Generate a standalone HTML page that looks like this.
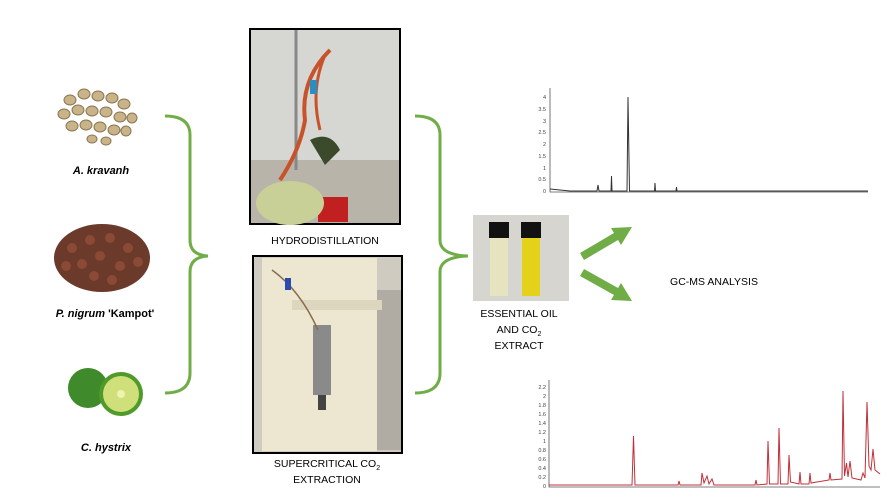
<!DOCTYPE html>
<html><head><style>body{margin:0;background:#fff}svg{display:block}text{font-family:"Liberation Sans",sans-serif}</style></head><body>
<svg width="896" height="504" viewBox="0 0 896 504" xmlns="http://www.w3.org/2000/svg">
<!-- seeds -->
<g fill="#c9b48a" stroke="#8a7550" stroke-width="1">
<ellipse cx="70" cy="100" rx="6" ry="5"/><ellipse cx="84" cy="94" rx="6" ry="5"/><ellipse cx="98" cy="96" rx="6" ry="5"/><ellipse cx="112" cy="98" rx="6" ry="5"/><ellipse cx="124" cy="104" rx="6" ry="5"/>
<ellipse cx="64" cy="114" rx="6" ry="5"/><ellipse cx="78" cy="110" rx="6" ry="5"/><ellipse cx="92" cy="111" rx="6" ry="5"/><ellipse cx="106" cy="112" rx="6" ry="5"/><ellipse cx="120" cy="117" rx="6" ry="5"/><ellipse cx="132" cy="118" rx="5" ry="5"/>
<ellipse cx="72" cy="126" rx="6" ry="5"/><ellipse cx="86" cy="125" rx="6" ry="5"/><ellipse cx="100" cy="127" rx="6" ry="5"/><ellipse cx="114" cy="130" rx="6" ry="5"/><ellipse cx="126" cy="131" rx="5" ry="5"/><ellipse cx="92" cy="139" rx="5" ry="4"/><ellipse cx="106" cy="141" rx="5" ry="4"/>
</g>
<!-- pepper -->
<ellipse cx="102" cy="258" rx="48" ry="34" fill="#6b3a2a"/>
<g fill="#8a4a35"><circle cx="72" cy="248" r="5"/><circle cx="90" cy="240" r="5"/><circle cx="110" cy="238" r="5"/><circle cx="128" cy="248" r="5"/><circle cx="82" cy="264" r="5"/><circle cx="100" cy="256" r="5"/><circle cx="120" cy="266" r="5"/><circle cx="138" cy="262" r="5"/><circle cx="94" cy="276" r="5"/><circle cx="112" cy="280" r="5"/><circle cx="66" cy="266" r="5"/></g>
<!-- lime -->
<circle cx="88" cy="388" r="20" fill="#3f8a2a"/>
<circle cx="121" cy="394" r="22" fill="#4f9a2a"/>
<circle cx="121" cy="394" r="18" fill="#cfe07a"/>
<circle cx="121" cy="394" r="4" fill="#eef3b0"/>
<g font-size="11" font-style="italic" font-weight="bold" fill="#000" text-anchor="middle">
<text x="101" y="174">A. kravanh</text>
<text x="105" y="317">P. nigrum <tspan font-style="normal">'Kampot'</tspan></text>
<text x="106" y="451">C. hystrix</text>
</g>
<!-- brackets -->
<g fill="none" stroke="#70ad47" stroke-width="3">
<path d="M165 116 Q190 116 190 135 L190 240 Q190 255 208 256 Q190 257 190 272 L190 373 Q190 393 165 393"/>
<path d="M415 116 Q440 116 440 135 L440 240 Q440 255 468 256 Q440 257 440 272 L440 373 Q440 393 415 393"/>
</g>
<!-- hydro photo -->
<rect x="250" y="29" width="150" height="195" fill="#d6d6d2" stroke="#000" stroke-width="2"/>
<rect x="251" y="160" width="148" height="63" fill="#b8b4aa"/>
<line x1="296" y1="30" x2="296" y2="170" stroke="#888" stroke-width="3"/>
<path d="M330 50 Q300 80 305 120 Q300 150 280 180" fill="none" stroke="#c8522a" stroke-width="4"/>
<path d="M325 55 Q310 90 320 130" fill="none" stroke="#c8522a" stroke-width="3"/>
<rect x="310" y="80" width="7" height="14" fill="#2a8fc0"/>
<path d="M310 140 Q330 130 340 150 L325 165 Z" fill="#3a4a2a"/>
<rect x="318" y="197" width="30" height="25" fill="#c02020"/>
<ellipse cx="290" cy="203" rx="34" ry="22" fill="#c8d098"/>
<!-- SCE photo -->
<rect x="253" y="256" width="149" height="197" fill="#cfcbc0" stroke="#000" stroke-width="2"/>
<rect x="262" y="258" width="115" height="193" fill="#ede7d2"/>
<rect x="377" y="290" width="24" height="160" fill="#b0aca4"/>
<rect x="292" y="300" width="90" height="10" fill="#ddd6bf"/>
<rect x="313" y="325" width="18" height="70" fill="#8a8a8a"/>
<rect x="318" y="395" width="8" height="15" fill="#444"/>
<path d="M272 270 Q300 290 318 330" fill="none" stroke="#8a6a4a" stroke-width="1.5"/>
<rect x="285" y="278" width="6" height="12" fill="#2a4ab0"/>
<!-- vials photo -->
<rect x="473" y="215" width="96" height="86" fill="#d7d5cf"/>
<rect x="489" y="222" width="20" height="16" fill="#111"/><rect x="490" y="238" width="18" height="58" fill="#e6e4c0"/>
<rect x="521" y="222" width="20" height="16" fill="#111"/><rect x="522" y="238" width="18" height="58" fill="#e4d21a"/>
<g font-size="10.5" fill="#000" text-anchor="middle">
<text x="325" y="244">HYDRODISTILLATION</text>
<text x="327" y="467">SUPERCRITICAL CO<tspan font-size="7" dy="3">2</tspan></text>
<text x="327" y="483">EXTRACTION</text>
<text x="519" y="317">ESSENTIAL OIL</text>
<text x="519" y="333">AND CO<tspan font-size="7" dy="3">2</tspan></text>
<text x="519" y="349">EXTRACT</text>
<text x="714" y="285">GC-MS ANALYSIS</text>
</g>
<!-- arrows -->
<g fill="#70ad47" stroke="none">
<polygon points="580,253 614,233 611,228 632,227 621,245 618,240 584,260"/>
<polygon points="580,276 584,269 618,288 621,283 632,301 611,300 614,295"/>
</g>
<!-- top chart -->
<g font-size="5.5" fill="#444" text-anchor="end">
<text x="546" y="99">4</text><text x="546" y="111">3.5</text><text x="546" y="123">3</text><text x="546" y="134">2.5</text><text x="546" y="146">2</text><text x="546" y="158">1.5</text><text x="546" y="170">1</text><text x="546" y="181">0.5</text><text x="546" y="193">0</text>
</g>
<path d="M550 88 V192 H868" fill="none" stroke="#555" stroke-width="0.8"/>
<path d="M550 189 L570 191 L597 191 L598 185 L599 191 L611 191 L611.5 176 L612 191 L627 191 L628 97 L629.5 191 L654.5 191 L655 183 L655.5 191 L676 191 L676.5 187 L677 191 L868 191" fill="none" stroke="#333" stroke-width="1"/>
<!-- bottom chart -->
<g font-size="5.5" fill="#444" text-anchor="end">
<text x="546" y="389">2.2</text><text x="546" y="398">2</text><text x="546" y="407">1.8</text><text x="546" y="416">1.6</text><text x="546" y="425">1.4</text><text x="546" y="434">1.2</text><text x="546" y="443">1</text><text x="546" y="452">0.8</text><text x="546" y="461">0.6</text><text x="546" y="470">0.4</text><text x="546" y="479">0.2</text><text x="546" y="488">0</text>
</g>
<path d="M549 380 V487 H880" fill="none" stroke="#555" stroke-width="0.8"/>
<path d="M549 485 L632 485 L633.5 436 L635 485 L678 485 L679 481 L680 485 L701 485 L702 473 L704 483 L707 476 L709 484 L712 479 L714 485 L755 485 L756 480 L757 485 L767 484 L768 441 L769.5 484 L778 484 L779 428 L780.5 484 L788 484 L789 455 L790.5 482 L799 484 L800 472 L801 484 L809 484 L810 473 L811 483 L829 480 L830 473 L831 480 L842 479 L843 391 L844.5 476 L846.5 463 L848 477 L850 461 L852 478 L861 480 L863 473 L865 478 L867 402 L869 466 L871 470 L873 449 L875 470 L880 474" fill="none" stroke="#c0303a" stroke-width="1"/>
</svg>
</body></html>
